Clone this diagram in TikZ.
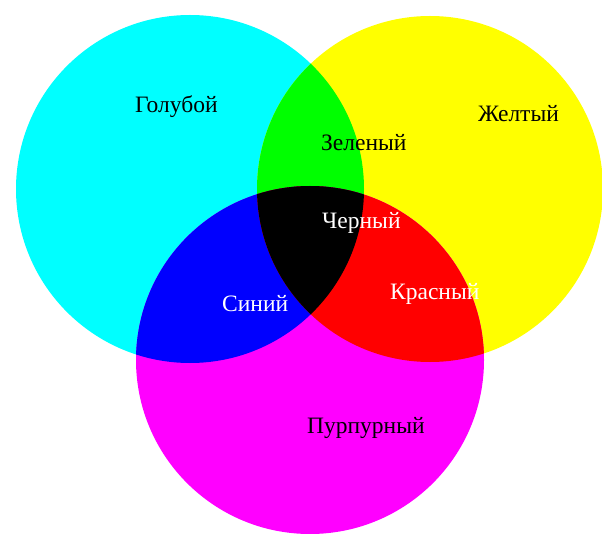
\documentclass[tikz,border=0pt]{standalone}
\usepackage{fontspec}
\setmainfont{Liberation Serif}
\definecolor{cC}{RGB}{0,255,255}
\definecolor{cY}{RGB}{255,255,0}
\definecolor{cM}{RGB}{255,0,255}
\definecolor{cG}{RGB}{0,255,0}
\definecolor{cB}{RGB}{0,0,255}
\definecolor{cR}{RGB}{255,0,0}
\definecolor{cK}{RGB}{0,0,0}
\begin{document}
\begin{tikzpicture}[x=1pt,y=-1pt,
  lbl/.style={anchor=base west,inner sep=0pt,font=\fontsize{23.5}{28}\selectfont}]
\useasboundingbox (0,0) rectangle (602,534);
\def\cyanc{(190,189) circle[radius=174]}
\def\yellowc{(430,189) circle[radius=173]}
\def\magentac{(310,360) circle[radius=174]}
\fill[cC] \cyanc;
\fill[cY] \yellowc;
\fill[cM] \magentac;
\begin{scope}
  \clip \cyanc;
  \fill[cG] \yellowc;
  \fill[cB] \magentac;
\end{scope}
\begin{scope}
  \clip \yellowc;
  \fill[cR] \magentac;
\end{scope}
\begin{scope}
  \clip \cyanc;
  \clip \yellowc;
  \fill[cK] \magentac;
\end{scope}
\node[lbl] (c) at (135,113) {Голубой};
\node[lbl] (y) at (478,122) {Желтый};
\node[lbl] (g) at (321,151) {Зеленый};
\node[lbl,text=white] (k) at (322,229) {Черный};
\node[lbl,text=white] (b) at (222,312) {Синий};
\node[lbl,text=white] (r) at (390,300) {Красный};
\node[lbl] (m) at (307,433) {Пурпурный};
\end{tikzpicture}
\end{document}
